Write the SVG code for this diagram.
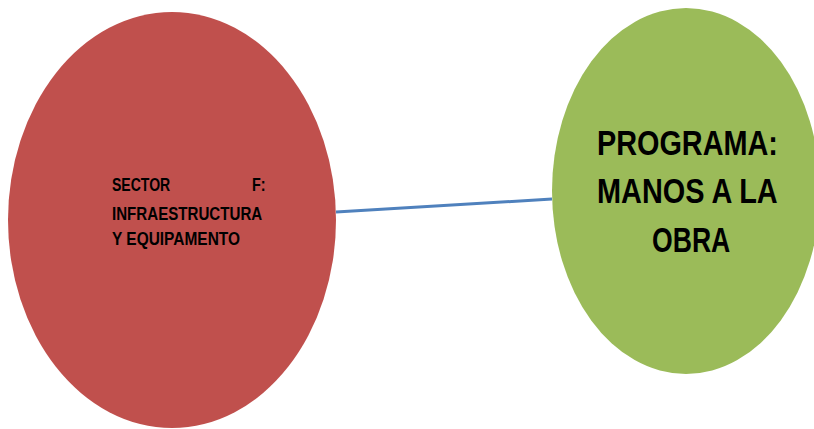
<svg xmlns="http://www.w3.org/2000/svg" width="814" height="429" viewBox="0 0 814 429">
<style>
.t{font-family:"Liberation Sans",Arial,sans-serif;font-weight:bold;fill:#000}
.s{font-size:18px}
.b{font-size:35px}
</style>
<rect width="814" height="429" fill="#fff"/>
<g id="connectors">
<line x1="336" y1="212" x2="552" y2="199" stroke="#4f81bd" stroke-width="3"/>
</g>
<g id="node-sector">
<ellipse cx="172" cy="220" rx="164" ry="208" fill="#c0504d"/>
<text class="t s" transform="translate(112,191) scale(0.78,1)">SECTOR</text>
<text class="t s" transform="translate(252,191) scale(0.8,1)">F:</text>
<text class="t s" transform="translate(112,220) scale(0.84,1)">INFRAESTRUCTURA</text>
<text class="t s" transform="translate(112,245) scale(0.86,1)">Y EQUIPAMENTO</text>
</g>
<g id="node-programa">
<ellipse cx="686" cy="191" rx="134" ry="183" fill="#9bbb59"/>
<text class="t b" transform="translate(597,155) scale(0.824,1)">PROGRAMA:</text>
<text class="t b" transform="translate(597,203) scale(0.825,1)">MANOS A LA</text>
<text class="t b" transform="translate(652,252) scale(0.76,1)">OBRA</text>
</g>
</svg>
